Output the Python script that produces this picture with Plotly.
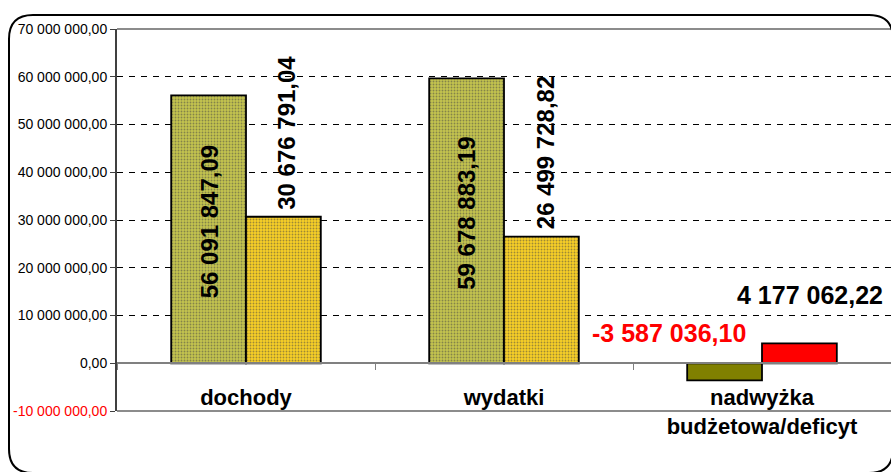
import plotly.graph_objects as go

categories = ["dochody", "wydatki", "nadwyżka<br>budżetowa/deficyt"]
plan_values = [56091847.09, 59678883.19, -3587036.10]
exec_values = [30676791.04, 26499728.82, 4177062.22]
y_ticks = [-10000000, 0, 10000000, 20000000, 30000000, 40000000, 50000000, 60000000, 70000000]


def fmt(v):
    s = f"{abs(v):,.2f}".replace(",", " ").replace(".", ",")
    return ("-" if v < 0 else "") + s


def tick_txt(v):
    t = fmt(v)
    return f"<span style='color:#ff0000'>{t}</span>" if v < 0 else t


FONT = "Liberation Sans, Arial, sans-serif"

fig = go.Figure()
fig.add_trace(go.Bar(
    x=categories, y=plan_values, name="plan",
    marker=dict(
        color=["#c4c44e", "#c4c44e", "#808000"],
        line=dict(color="#000000", width=1.8),
        pattern=dict(shape=[".", ".", ""], fgcolor="#d8d870", size=3, solidity=0.3),
    ),
))
fig.add_trace(go.Bar(
    x=categories, y=exec_values, name="wykonanie",
    marker=dict(
        color=["#f8cf26", "#f8cf26", "#ff0000"],
        line=dict(color="#000000", width=1.8),
        pattern=dict(shape=[".", ".", ""], fgcolor="#ffe868", size=3, solidity=0.3),
    ),
))

ann = []
# group 1 & 2: vertical labels
for i in range(2):
    ann.append(dict(x=categories[i], y=plan_values[i] / 2, xref="x", yref="y",
                    text=fmt(plan_values[i]), textangle=-90, showarrow=False,
                    xshift=-37, yshift=7,
                    font=dict(family=FONT, size=24, color="#000000", weight="bold")))
    ann.append(dict(x=categories[i], y=exec_values[i], xref="x", yref="y",
                    text=fmt(exec_values[i]), textangle=-90, showarrow=False,
                    xshift=41, yshift=5, yanchor="bottom",
                    font=dict(family=FONT, size=24, color="#000000", weight="bold")))
# group 3: horizontal labels
ann.append(dict(x=categories[2], y=0, xref="x", yref="y",
                text=fmt(plan_values[2]), showarrow=False,
                xshift=-93, yshift=14, yanchor="bottom",
                font=dict(family=FONT, size=25, color="#ff0000", weight="bold")))
ann.append(dict(x=categories[2], y=exec_values[2], xref="x", yref="y",
                text=fmt(exec_values[2]), showarrow=False,
                xshift=48, yshift=32, yanchor="bottom",
                font=dict(family=FONT, size=25, color="#000000", weight="bold")))

shapes = [
    # plot area top and bottom borders
    dict(type="line", xref="paper", yref="paper", x0=0, x1=1, y0=1, y1=1,
         line=dict(color="#8c8c8c", width=2)),
    dict(type="line", xref="paper", yref="paper", x0=0, x1=1, y0=0, y1=0,
         line=dict(color="#8c8c8c", width=2)),
    # rounded frame around chart (pixels relative to plot-area bottom-left)
    dict(type="path", xref="paper", yref="paper", xsizemode="pixel", ysizemode="pixel",
         xanchor=0, yanchor=0,
         path="M -84 396 L 752 396 Q 776 396 776 372 L 776 -38 Q 776 -62 752 -62 "
              "L -84 -62 Q -108 -62 -108 -38 L -108 372 Q -108 396 -84 396 Z",
         line=dict(color="#000000", width=2)),
]

fig.update_layout(
    width=891, height=472,
    margin=dict(l=117, r=0, t=29, b=61),
    paper_bgcolor="#ffffff", plot_bgcolor="#ffffff",
    barmode="group", bargap=0.42, bargroupgap=0,
    showlegend=False,
    font=dict(family=FONT, color="#000000"),
    annotations=ann, shapes=shapes,
    xaxis=dict(
        anchor="free", position=0.125,
        showline=True, linecolor="#808080", linewidth=1.5,
        ticks="outside", tickson="boundaries", ticklen=6, tickcolor="#808080",
        ticklabelstandoff=15,
        tickfont=dict(family=FONT, size=22, color="#000000", weight="bold"),
        showgrid=False, fixedrange=True,
    ),
    yaxis=dict(
        range=[-10000000, 70000000],
        tickvals=y_ticks, ticktext=[tick_txt(v) for v in y_ticks],
        tickfont=dict(family=FONT, size=14, color="#000000"),
        ticks="outside", ticklen=5, tickcolor="#404040",
        showline=True, linecolor="#404040", linewidth=2,
        showgrid=True, gridcolor="#000000", gridwidth=1, griddash="6px,6px",
        zeroline=True, zerolinecolor="#808080", zerolinewidth=1.5,
    ),
)

fig.write_html("out.html", config={"displayModeBar": False},
               post_script="document.body.style.margin = '0';")
